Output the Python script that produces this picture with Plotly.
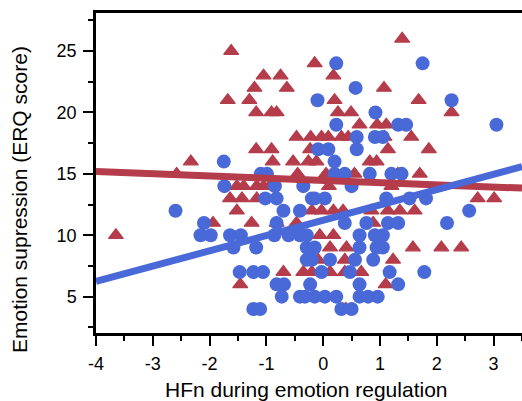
import plotly.graph_objects as go

# Red triangles (x = HFn, y = ERQ suppression score)
red_x = [-1.62, 1.39, -0.15, -1.05, -0.75, 0.18, -1.21, -0.64, 1.07,
         -1.68, -1.30, 0.20, 1.68, -1.18, -0.91, -0.82, 0.26, 0.49, 2.26,
         0.64, 0.95, 1.11,
         -0.47, -0.22, -0.03, 0.09, 0.32, 0.44, 1.08, 1.55,
         -1.18, -0.91, -0.23, 1.14, 1.86,
         -2.33, -0.89, -0.53, -0.26, -0.12, 0.82, 0.94,
         -2.58, 1.70, -0.45, 0.05, 0.55, 1.31,
         -1.52, -1.40, -1.17, -1.05, -0.94, 0.10, 1.20,
         -1.64, -1.43, -1.17, 2.72, 3.01,
         -1.52, -0.20, -0.03, 0.18, 0.35, 0.85, 1.14, 1.35, 1.61,
         -1.94, -1.26, -0.82, -0.47, 0.88,
         -3.65, -0.55, -0.06, 0.18,
         0.12, 0.41, 1.58, 2.08, 2.43,
         -0.09, 0.38, 1.23,
         -0.70, -0.35, -0.20, 0.12, 0.38, 0.67,
         -1.46, 1.10, 0.40]
red_y = [25, 26, 24, 23, 23, 23, 22, 22, 22,
         21, 21, 21, 21, 20, 20, 20, 20, 20, 20,
         19, 19, 19,
         18, 18, 18, 18, 18, 18, 18, 18,
         17, 17, 17, 17, 17,
         16, 16, 16, 16, 16, 16, 16,
         15, 15, 15, 15, 15, 15,
         14, 14, 14, 14, 14, 14, 14,
         13, 13, 13, 13, 13,
         12, 12, 12, 12, 12, 12, 12, 12, 12,
         11, 11, 11, 11, 11,
         10, 10, 10, 10,
         9, 9, 9, 9, 9,
         8, 8, 8,
         7, 7, 7, 7, 7, 7,
         6, 6, 4]

# Blue circles
blue_x = [0.23, 1.75, 0.57, -0.10, 2.26, 0.92,
          0.23, 1.32, 1.46, 3.05,
          0.59, 0.91, 1.05,
          -0.09, 0.09, 0.59,
          -1.75, 0.20,
          -1.10, -0.99, 0.20, 0.38, 0.82, 1.20, 1.38,
          -1.74, -0.85, -0.35, 0.50,
          -1.02, -0.82, -0.20, -0.15, 0.03, 1.11, 1.52, 1.81,
          -2.60, -0.70, -0.41, 2.57,
          -2.10, -0.82, 0.38, 0.76, 1.14, 1.32, 2.18,
          -2.16, -1.98, -1.64, -1.45, -0.86, -0.61, -0.41, -0.29, 0.64, 0.91, 1.05,
          -1.58, -1.18, -0.29, -0.15, 0.64, 0.94, 1.05,
          -0.29, -0.20, 0.12, 0.56, 0.88,
          -1.47, -1.23, -1.06, -0.03, 0.47, 1.17, 1.78,
          -0.82, -0.69, -0.23, 0.64, 1.32,
          -0.73, -0.41, -0.32, -0.15, 0.03, 0.23, 0.64, 0.79, 0.96,
          -1.23, -1.11, 0.32, 0.50]
blue_y = [24, 24, 22, 21, 21, 20,
          19, 19, 19, 19,
          18, 18, 18,
          17, 17, 17,
          16, 16,
          15, 15, 15, 15, 15, 15, 15,
          14, 14, 14, 14,
          13, 13, 13, 13, 13, 13, 13, 13,
          12, 12, 12, 12,
          11, 11, 11, 11, 11, 11, 11,
          10, 10, 10, 10, 10, 10, 10, 10, 10, 10, 10,
          9, 9, 9, 9, 9, 9, 9,
          8, 8, 8, 8, 8,
          7, 7, 7, 7, 7, 7, 7,
          6, 6, 6, 6, 6,
          5, 5, 5, 5, 5, 5, 5, 5, 5,
          4, 4, 4, 4]

# Regression lines (intercept, slope)
red_fit = [14.47, -0.18]
blue_fit = [11.23, 1.248]
fit_x = [-4.0, 3.5]

x_ticks = [-4, -3, -2, -1, 0, 1, 2, 3]
x_tick_labels = ["-4", "-3", "-2", "-1", "0", "1", "2", "3"]
y_ticks = [5, 10, 15, 20, 25]
y_tick_labels = ["5", "10", "15", "20", "25"]

x_title = "HFn during emotion regulation"
y_title = "Emotion supression (ERQ score)"

RED = "#B43C4B"
BLUE = "#4A69D8"

fig = go.Figure()
fig.add_trace(go.Scatter(x=red_x, y=red_y, mode="markers",
                         marker=dict(symbol="triangle-up", size=13, color=RED,
                                     line=dict(color=RED, width=1.2)),
                         showlegend=False))
fig.add_trace(go.Scatter(x=blue_x, y=blue_y, mode="markers",
                         marker=dict(symbol="circle", size=14, color=BLUE,
                                     line=dict(width=0)),
                         showlegend=False))
fig.add_trace(go.Scatter(x=fit_x, y=[red_fit[0] + red_fit[1] * v for v in fit_x],
                         mode="lines", line=dict(color=RED, width=7),
                         showlegend=False))
fig.add_trace(go.Scatter(x=fit_x, y=[blue_fit[0] + blue_fit[1] * v for v in fit_x],
                         mode="lines", line=dict(color=BLUE, width=7),
                         showlegend=False))

font = "Liberation Sans, Arial, sans-serif"
axis_common = dict(showgrid=False, zeroline=False, showline=True, linecolor="black",
                   linewidth=2.5, ticks="outside", ticklen=10, tickwidth=2.2,
                   tickcolor="black", tickfont=dict(size=18), ticklabelstandoff=3)
fig.update_layout(
    width=522, height=401,
    margin=dict(l=96, r=0, t=13, b=68),
    paper_bgcolor="white", plot_bgcolor="white",
    font=dict(family=font, color="black", size=18),
    xaxis=dict(range=[-4, 3.5], tickvals=x_ticks, ticktext=x_tick_labels, mirror=True,
               minor=dict(dtick=0.5, tick0=0, ticks="outside", ticklen=5, tickwidth=2.2,
                          tickcolor="black"),
               **axis_common),
    yaxis=dict(range=[2.04, 28.1], tickvals=y_ticks, ticktext=y_tick_labels,
               minor=dict(dtick=2.5, tick0=0, ticks="outside", ticklen=5, tickwidth=2.2,
                          tickcolor="black"),
               **axis_common),
    annotations=[
        dict(text=x_title, xref="paper", yref="paper", x=0.495, y=-0.175,
             xanchor="center", yanchor="middle", showarrow=False,
             font=dict(size=21, family=font, color="black")),
        dict(text=y_title, xref="paper", yref="paper", x=-0.178, y=0.416,
             xanchor="center", yanchor="middle", textangle=-90, showarrow=False,
             font=dict(size=21, family=font, color="black")),
    ],
)
fig.write_html("out.html")
